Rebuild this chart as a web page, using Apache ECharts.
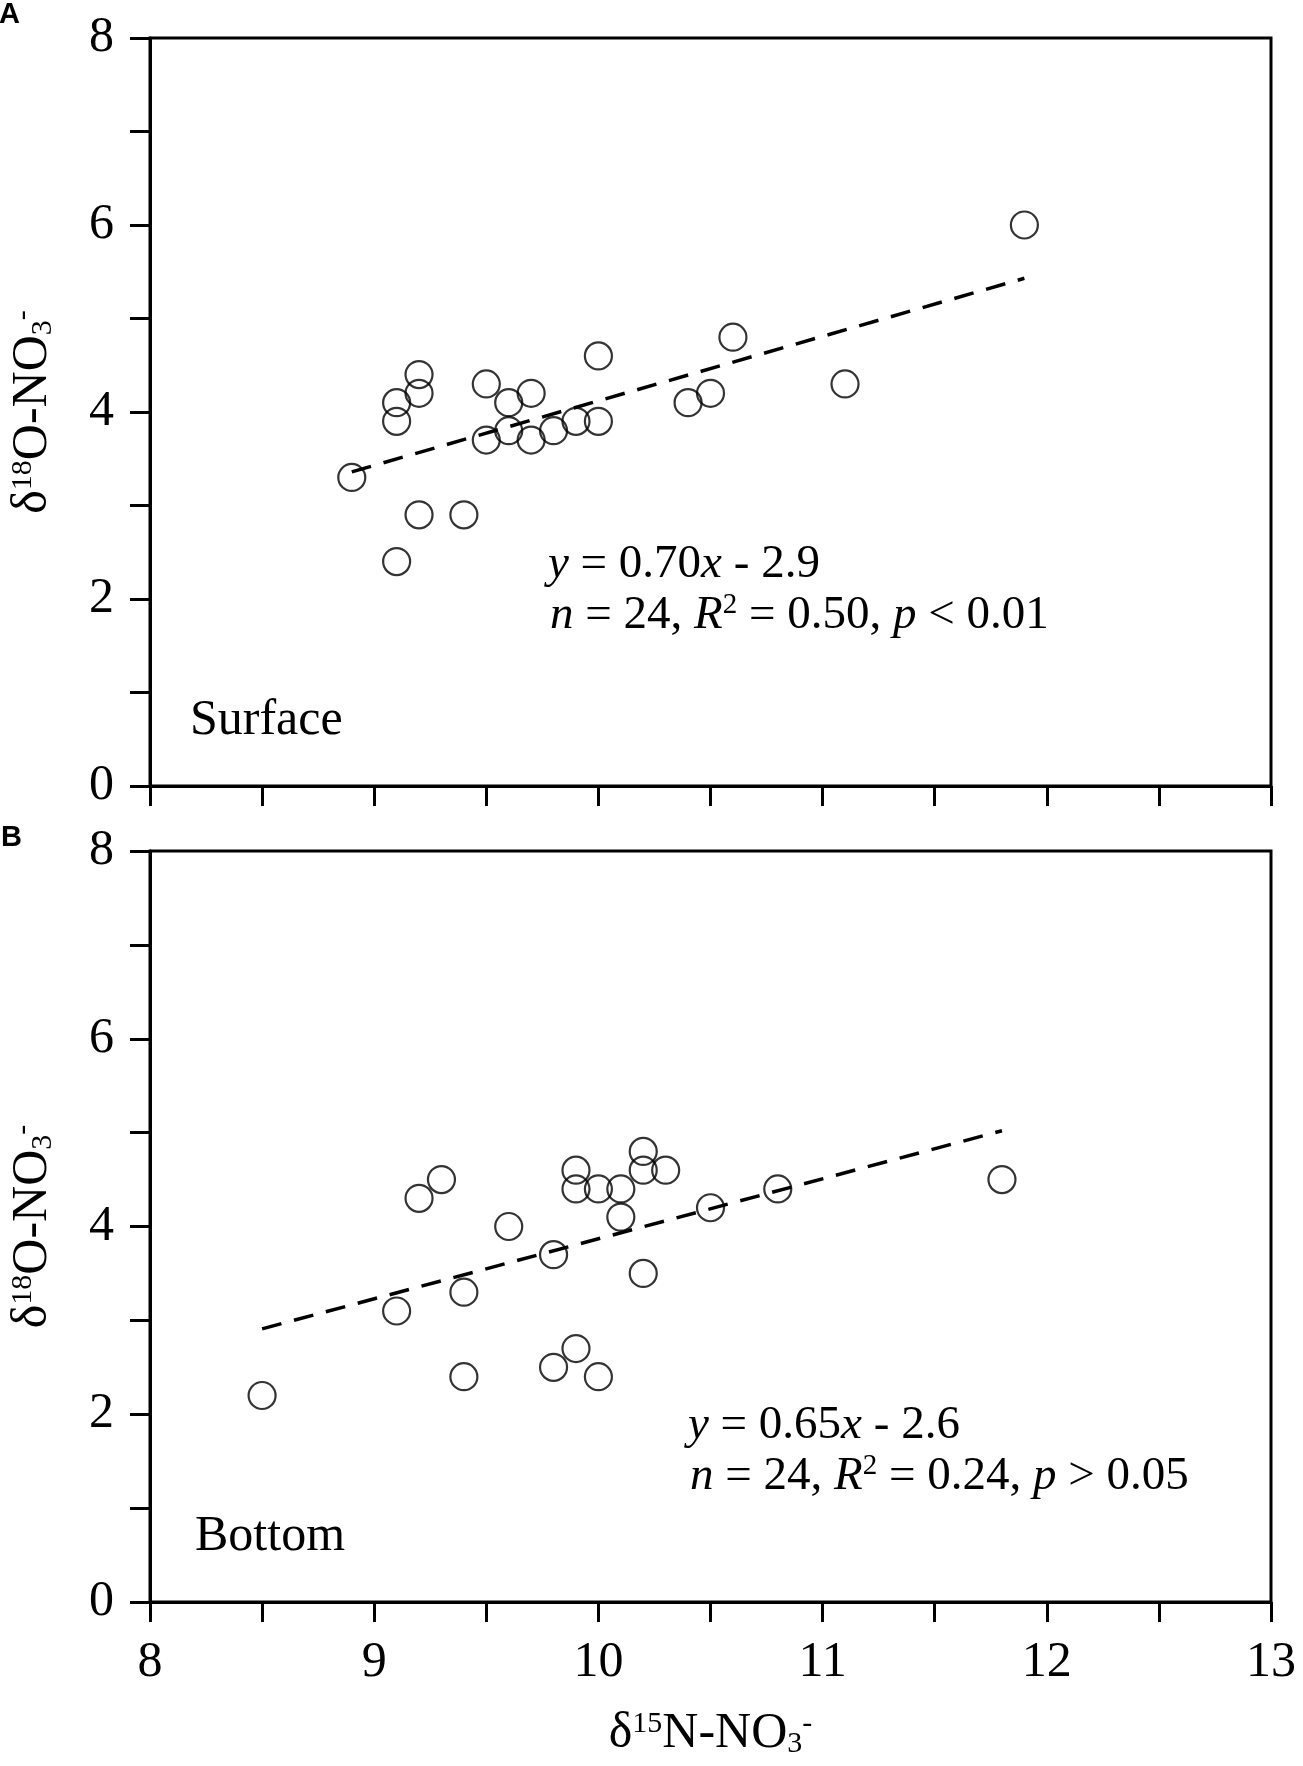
<!DOCTYPE html>
<html>
<head>
<meta charset="utf-8">
<title>δ18O vs δ15N of nitrate</title>
<script src="https://cdn.jsdelivr.net/npm/echarts@6/dist/echarts.min.js"></script>
<style>
  html, body { margin: 0; padding: 0; background: #fff; }
  #chart { width: 1303px; height: 1766px; }
</style>
</head>
<body>
<div id="chart"></div>
<script>
// 表层 / 底层 硝酸盐同位素数据
const surfaceN = [8.9, 9.1, 9.1, 9.1, 9.2, 9.2, 9.2, 9.4, 9.5, 9.5, 9.6, 9.6, 9.7, 9.7, 9.8, 9.9, 10.0, 10.0, 10.4, 10.5, 10.6, 11.1, 11.9];
const surfaceO = [3.3, 4.1, 3.9, 2.4, 4.4, 4.2, 2.9, 2.9, 4.3, 3.7, 4.1, 3.8, 4.2, 3.7, 3.8, 3.9, 4.6, 3.9, 4.1, 4.2, 4.8, 4.3, 6.0];
const bottomN = [8.5, 9.1, 9.2, 9.3, 9.4, 9.4, 9.6, 9.8, 9.8, 9.9, 9.9, 9.9, 10.0, 10.0, 10.1, 10.1, 10.2, 10.2, 10.2, 10.3, 10.5, 10.8, 11.8];
const bottomO = [2.2, 3.1, 4.3, 4.5, 3.3, 2.4, 4.0, 3.7, 2.5, 4.6, 4.4, 2.7, 4.4, 2.4, 4.4, 4.1, 4.8, 4.6, 3.5, 4.6, 4.2, 4.4, 4.5];

// 回归线端点
const surfaceFitN = [8.9, 11.9];
const surfaceFitO = [3.36, 5.43];
const bottomFitN = [8.5, 11.8];
const bottomFitO = [2.91, 5.02];

const xTicks = [8, 9, 10, 11, 12, 13];
const yTicks = [0, 2, 4, 6, 8];

const serif = 'Liberation Serif';

function pairs(xs, ys) {
    return xs.map(function (x, i) { return [x, ys[i]]; });
}

const axisRich = {
    m: { fontSize: 50, fontFamily: serif, color: '#000', lineHeight: 50 },
    sup: { fontSize: 30, fontFamily: serif, color: '#000', lineHeight: 36, verticalAlign: 'top' },
    sub: { fontSize: 30, fontFamily: serif, color: '#000', lineHeight: 30, verticalAlign: 'bottom' }
};

function xAxisOf(idx, showLabel) {
    return {
        gridIndex: idx,
        type: 'value',
        min: 8,
        max: 13,
        interval: 0.5,
        name: showLabel ? '{m|δ}{sup|15}{m|N-NO}{sub|3}{sup|-}' : '',
        nameLocation: 'middle',
        nameGap: 107,
        nameTextStyle: { rich: axisRich },
        axisLine: { lineStyle: { color: '#000', width: 3 } },
        axisTick: { inside: false, length: 20, lineStyle: { color: '#000', width: 3 } },
        axisLabel: {
            show: showLabel,
            showMinLabel: true,
            showMaxLabel: true,
            margin: 36,
            fontSize: 50,
            fontFamily: serif,
            color: '#000',
            formatter: function (v) { return xTicks.indexOf(v) >= 0 ? String(v) : ''; }
        },
        splitLine: { show: false }
    };
}

function yAxisOf(idx) {
    return {
        gridIndex: idx,
        type: 'value',
        min: 0,
        max: 8,
        interval: 1,
        name: '{m|δ}{sup|18}{m|O-NO}{sub|3}{sup|-}',
        nameLocation: 'middle',
        nameRotate: 90,
        nameGap: 92,
        nameTextStyle: { rich: axisRich },
        axisLine: { lineStyle: { color: '#000', width: 3 } },
        axisTick: { inside: false, length: 20, lineStyle: { color: '#000', width: 3 } },
        axisLabel: {
            showMinLabel: true,
            showMaxLabel: true,
            margin: 36,
            fontSize: 50,
            fontFamily: serif,
            color: '#000',
            formatter: function (v) { return yTicks.indexOf(v) >= 0 ? String(v) : ''; }
        },
        splitLine: { show: false }
    };
}

function scatterOf(idx, xs, ys) {
    return {
        type: 'scatter',
        xAxisIndex: idx,
        yAxisIndex: idx,
        data: pairs(xs, ys),
        symbol: 'circle',
        symbolSize: 27,
        itemStyle: { color: 'rgba(0,0,0,0)', borderColor: '#000', borderWidth: 2.2 },
        z: 3
    };
}

function fitOf(idx, xs, ys) {
    return {
        type: 'line',
        xAxisIndex: idx,
        yAxisIndex: idx,
        data: pairs(xs, ys),
        symbol: 'none',
        lineStyle: { color: '#000', width: 3.5, type: [20, 13] },
        z: 2
    };
}

// 图中文字：全部用 rich 片段，保证字体字号一致
const txtRich = {
    r: { fontSize: 47, fontFamily: serif, color: '#000', lineHeight: 50 },
    i: { fontStyle: 'italic', fontSize: 47, fontFamily: serif, color: '#000', lineHeight: 50 },
    sup: { fontSize: 29, fontFamily: serif, color: '#000', lineHeight: 38, verticalAlign: 'top' },
    big: { fontSize: 50, fontFamily: serif, color: '#000', lineHeight: 52 }
};

function textEl(x, y, text) {
    return {
        type: 'text',
        left: x,
        top: y,
        style: {
            text: text,
            fontSize: 47,
            fontFamily: serif,
            fill: '#000',
            rich: txtRich
        }
    };
}

// 面板编号 A / B
function tagEl(x, y, text) {
    return {
        type: 'text',
        x: x,
        y: y,
        style: {
            text: text,
            fontSize: 29,
            fontWeight: 700,
            fontFamily: 'Liberation Sans, Arial, sans-serif',
            fill: '#000',
            align: 'left',
            verticalAlign: 'top'
        }
    };
}

const chart = echarts.init(document.getElementById('chart'));

const option = {
    backgroundColor: '#fff',
    animation: false,
    grid: [
        { left: 149, right: 32, top: 38, height: 748, show: true, borderColor: '#000', borderWidth: 3 },
        { left: 149, right: 32, top: 851, height: 751, show: true, borderColor: '#000', borderWidth: 3 }
    ],
    xAxis: [xAxisOf(0, false), xAxisOf(1, true)],
    yAxis: [yAxisOf(0), yAxisOf(1)],
    series: [
        fitOf(0, surfaceFitN, surfaceFitO),
        scatterOf(0, surfaceN, surfaceO),
        fitOf(1, bottomFitN, bottomFitO),
        scatterOf(1, bottomN, bottomO)
    ],
    graphic: [
        tagEl(-1, 0, 'A'),
        tagEl(1, 823, 'B'),
        textEl(190, 696, '{big|Surface}'),
        textEl(548, 541, '{i|y}{r| = 0.70}{i|x}{r| - 2.9}'),
        textEl(550, 591, '{i|n}{r| = 24, }{i|R}{sup|2}{r| = 0.50, }{i|p}{r| < 0.01}'),
        textEl(195, 1512, '{big|Bottom}'),
        textEl(688, 1402, '{i|y}{r| = 0.65}{i|x}{r| - 2.6}'),
        textEl(690, 1452, '{i|n}{r| = 24, }{i|R}{sup|2}{r| = 0.24, }{i|p}{r| > 0.05}')
    ]
};

chart.setOption(option);

window.onresize = function () {
    chart.resize();
};
</script>
</body>
</html>
